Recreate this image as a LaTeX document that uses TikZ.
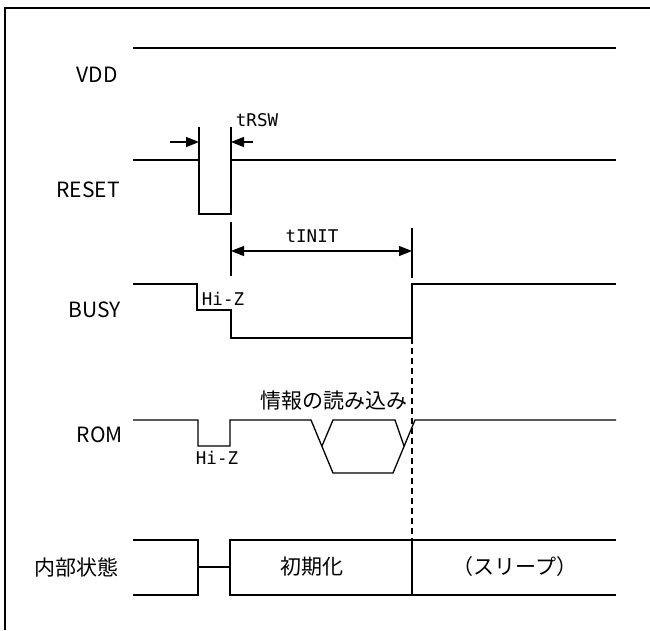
\documentclass[tikz,border=0pt]{standalone}
\usepackage{fontspec}
\setmainfont{Noto Sans CJK JP}
\newfontfamily\monofont{DejaVu Sans Mono}
\usetikzlibrary{arrows.meta}
\begin{document}
\begin{tikzpicture}[x=1pt,y=-1pt,
  sig/.style={line width=1.3pt, line join=miter},
  tickline/.style={line width=1.1pt},
  dimarrow/.style={line width=1.1pt, -{Triangle[length=13pt,width=10pt]}},
  dimboth/.style={line width=1.1pt, {Triangle[length=13pt,width=10pt]}-{Triangle[length=13pt,width=10pt]}},
  lbl/.style={anchor=east, inner sep=0pt, font=\fontsize{21}{21}\selectfont},
  jtxt/.style={inner sep=0pt, font=\fontsize{21}{21}\selectfont},
  mtxt/.style={inner sep=0pt, font=\monofont\fontsize{17.5}{17.5}\selectfont}]
\useasboundingbox (0,0) rectangle (650,630);
\draw[line width=1.6pt] (5,630) -- (5,8) -- (650,8);
% labels
\node[lbl] (vdd) at (118,75) {VDD};
\node[lbl] (reset) at (120,190) {RESET};
\node[lbl] (busy) at (121,310) {BUSY};
\node[lbl] (rom) at (123,435) {ROM};
\node[lbl] (state) at (119,567) {内部状態};
% VDD
\draw[sig] (133,48) -- (616,48);
% RESET
\draw[sig] (133,160) -- (199,160) -- (199,214) -- (231,214) -- (231,160) -- (616,160);
\coordinate (rswL) at (199,142);
\coordinate (rswR) at (231,142);
\coordinate (rswLo) at (170,142);
\coordinate (rswRo) at (253,142);
\draw[tickline] (199,127) -- (199,160);
\draw[tickline] (231,127) -- (231,160);
\draw[dimarrow] (rswLo) -- (rswL);
\draw[dimarrow] (rswRo) -- (rswR);
\node[mtxt] (trsw) at (257,120) {tRSW};
% BUSY
\draw[sig] (133,284) -- (197,284) -- (197,310) -- (231,310) -- (231,338) -- (412,338) -- (412,284) -- (616,284);
\node[mtxt] (hizb) at (223,299) {Hi-Z};
\coordinate (initL) at (231,251);
\coordinate (initR) at (412,251);
\draw[tickline] (231,222) -- (231,276);
\draw[tickline] (412,228) -- (412,278);
\draw[dimboth] (initL) -- (initR);
\node[mtxt] (tinit) at (312,236) {tINIT};
% ROM
\draw[sig] (133,420) -- (198,420) -- (198,446) -- (230,446) -- (230,420) -- (311,420) -- (333,473) -- (393,473) -- (415,420) -- (616,420);
\draw[sig] (322,446) -- (333,420) -- (395,420) -- (404,446);
\node[mtxt] (hizr) at (217,458) {Hi-Z};
\node[jtxt] (read) at (334,401) {情報の読み込み};
% dashed
\draw[line width=1.1pt, dash pattern=on 6pt off 4pt] (412,338) -- (412,540);
% internal state
\draw[sig] (133,540) -- (198,540) -- (198,595) -- (133,595);
\draw[sig] (198,567) -- (230,567);
\draw[sig] (616,540) -- (230,540) -- (230,595) -- (616,595);
\draw[sig] (412,540) -- (412,595);
\node[jtxt] (init) at (312,567) {初期化};
\node[jtxt] (sleep) at (515,567) {（スリープ）};
\end{tikzpicture}
\end{document}
